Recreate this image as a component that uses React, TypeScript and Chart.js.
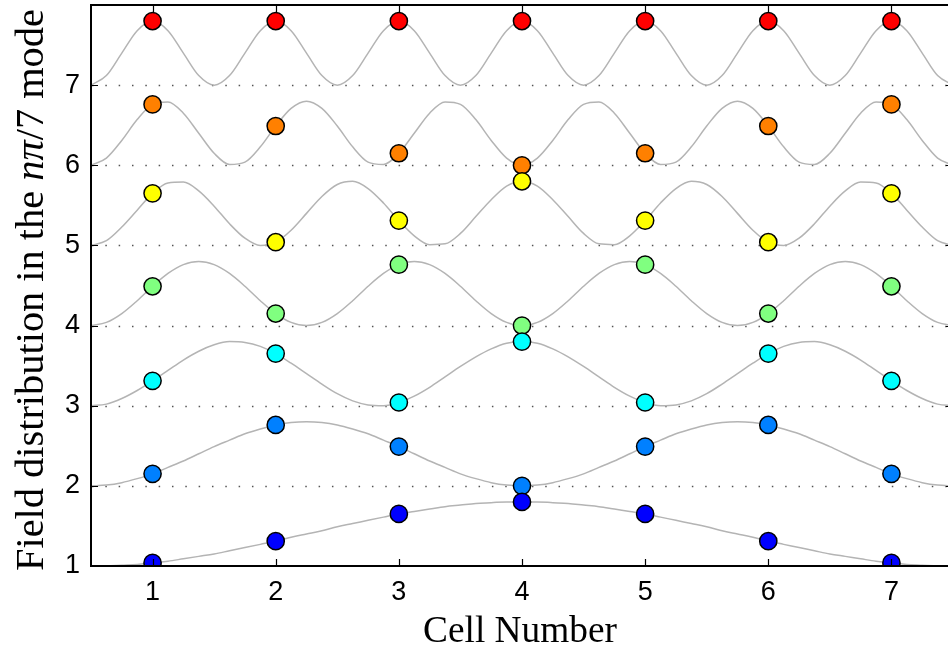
import React, { useEffect, useRef } from "react";
import { Chart, registerables } from "chart.js";
Chart.register(...registerables);

// Cell numbers (x) and tick labels
const cells = [1, 2, 3, 4, 5, 6, 7];
const yTickValues = [1, 2, 3, 4, 5, 6, 7];

// Field value at each cell, one array per nπ/7 mode
const mode1Cells = [1.04, 1.31, 1.65, 1.8, 1.65, 1.31, 1.04];
const mode2Cells = [2.15, 2.76, 2.49, 2.0, 2.49, 2.76, 2.15];
const mode3Cells = [3.31, 3.65, 3.04, 3.8, 3.04, 3.65, 3.31];
const mode4Cells = [4.49, 4.15, 4.76, 4.0, 4.76, 4.15, 4.49];
const mode5Cells = [5.65, 5.04, 5.31, 5.8, 5.31, 5.04, 5.65];
const mode6Cells = [6.76, 6.49, 6.15, 6.0, 6.15, 6.49, 6.76];
const mode7Cells = [7.8, 7.8, 7.8, 7.8, 7.8, 7.8, 7.8];

// Continuous field curves, sampled along the structure
const curveX = [
  0.5, 0.625, 0.75, 0.875, 1, 1.125, 1.25, 1.375, 1.5, 1.625, 1.75, 1.875, 2, 2.125, 2.25, 2.375,
  2.5, 2.625, 2.75, 2.875, 3, 3.125, 3.25, 3.375, 3.5, 3.625, 3.75, 3.875, 4, 4.125, 4.25, 4.375,
  4.5, 4.625, 4.75, 4.875, 5, 5.125, 5.25, 5.375, 5.5, 5.625, 5.75, 5.875, 6, 6.125, 6.25, 6.375,
  6.5, 6.625, 6.75, 6.875, 7, 7.125, 7.25, 7.375, 7.5,
];
const mode1Curve = [
  1.0, 1.0, 1.01, 1.02, 1.04, 1.06, 1.09, 1.12, 1.15, 1.19, 1.23, 1.27, 1.31, 1.36, 1.4, 1.44, 1.49,
  1.53, 1.57, 1.61, 1.65, 1.68, 1.71, 1.74, 1.76, 1.78, 1.79, 1.8, 1.8, 1.8, 1.79, 1.78, 1.76, 1.74,
  1.71, 1.68, 1.65, 1.61, 1.57, 1.53, 1.49, 1.44, 1.4, 1.36, 1.31, 1.27, 1.23, 1.19, 1.15, 1.12, 1.09,
  1.06, 1.04, 1.02, 1.01, 1.0, 1.0,
];
const mode2Curve = [
  2.0, 2.01, 2.04, 2.09, 2.15, 2.23, 2.31, 2.4, 2.49, 2.57, 2.65, 2.71, 2.76, 2.79, 2.8, 2.79, 2.76,
  2.71, 2.65, 2.57, 2.49, 2.4, 2.31, 2.23, 2.15, 2.09, 2.04, 2.01, 2.0, 2.01, 2.04, 2.09, 2.15, 2.23,
  2.31, 2.4, 2.49, 2.57, 2.65, 2.71, 2.76, 2.79, 2.8, 2.79, 2.76, 2.71, 2.65, 2.57, 2.49, 2.4, 2.31,
  2.23, 2.15, 2.09, 2.04, 2.01, 2.0,
];
const mode3Curve = [
  3.0, 3.02, 3.09, 3.19, 3.31, 3.44, 3.57, 3.68, 3.76, 3.8, 3.79, 3.74, 3.65, 3.53, 3.4, 3.27, 3.15,
  3.06, 3.01, 3.0, 3.04, 3.12, 3.23, 3.36, 3.49, 3.61, 3.71, 3.78, 3.8, 3.78, 3.71, 3.61, 3.49, 3.36,
  3.23, 3.12, 3.04, 3.0, 3.01, 3.06, 3.15, 3.27, 3.4, 3.53, 3.65, 3.74, 3.79, 3.8, 3.76, 3.68, 3.57,
  3.44, 3.31, 3.19, 3.09, 3.02, 3.0,
];
const mode4Curve = [
  4.0, 4.04, 4.15, 4.31, 4.49, 4.65, 4.76, 4.8, 4.76, 4.65, 4.49, 4.31, 4.15, 4.04,
  4.0, 4.04, 4.15, 4.31, 4.49, 4.65, 4.76, 4.8, 4.76, 4.65, 4.49, 4.31, 4.15, 4.04,
  4.0, 4.04, 4.15, 4.31, 4.49, 4.65, 4.76, 4.8, 4.76, 4.65, 4.49, 4.31, 4.15, 4.04,
  4.0, 4.04, 4.15, 4.31, 4.49, 4.65, 4.76, 4.8, 4.76, 4.65, 4.49, 4.31, 4.15, 4.04,
  4.0,
];
const mode5Curve = [
  5.0, 5.06, 5.23, 5.44, 5.65, 5.78, 5.79, 5.68, 5.49, 5.27, 5.09, 5.0, 5.04, 5.19, 5.4, 5.61, 5.76,
  5.8, 5.71, 5.53, 5.31, 5.12, 5.01, 5.02, 5.15, 5.36, 5.57, 5.74, 5.8, 5.74, 5.57, 5.36, 5.15, 5.02,
  5.01, 5.12, 5.31, 5.53, 5.71, 5.8, 5.76, 5.61, 5.4, 5.19, 5.04, 5.0, 5.09, 5.27, 5.49, 5.68, 5.79,
  5.78, 5.65, 5.44, 5.23, 5.06, 5.0,
];
const mode6Curve = [
  6.0, 6.09, 6.31, 6.57, 6.76, 6.79, 6.65, 6.4, 6.15, 6.01, 6.04, 6.23, 6.49, 6.71, 6.8, 6.71, 6.49,
  6.23, 6.04, 6.01, 6.15, 6.4, 6.65, 6.79, 6.76, 6.57, 6.31, 6.09, 6.0, 6.09, 6.31, 6.57, 6.76, 6.79,
  6.65, 6.4, 6.15, 6.01, 6.04, 6.23, 6.49, 6.71, 6.8, 6.71, 6.49, 6.23, 6.04, 6.01, 6.15, 6.4, 6.65,
  6.79, 6.76, 6.57, 6.31, 6.09, 6.0,
];
const mode7Curve = [
  7.0, 7.12, 7.4, 7.68, 7.8, 7.68, 7.4, 7.12,
  7.0, 7.12, 7.4, 7.68, 7.8, 7.68, 7.4, 7.12,
  7.0, 7.12, 7.4, 7.68, 7.8, 7.68, 7.4, 7.12,
  7.0, 7.12, 7.4, 7.68, 7.8, 7.68, 7.4, 7.12,
  7.0, 7.12, 7.4, 7.68, 7.8, 7.68, 7.4, 7.12,
  7.0, 7.12, 7.4, 7.68, 7.8, 7.68, 7.4, 7.12,
  7.0, 7.12, 7.4, 7.68, 7.8, 7.68, 7.4, 7.12,
  7.0,
];

const modeCells = [mode1Cells, mode2Cells, mode3Cells, mode4Cells, mode5Cells, mode6Cells, mode7Cells];
const modeCurves = [mode1Curve, mode2Curve, mode3Curve, mode4Curve, mode5Curve, mode6Curve, mode7Curve];
const modeColors = ["#0000ff", "#0080ff", "#00ffff", "#80ff80", "#ffff00", "#ff8000", "#ff0000"];

const xTitle = "Cell Number";
const yTitleParts: [string, boolean][] = [
  ["Field distribution in the ", false],
  ["nπ", true],
  ["/7", false],
  [" mode", false],
];

const SERIF = '"Liberation Serif", "Times New Roman", serif';
const SANS = '"Liberation Sans", Arial, sans-serif';

const framePlugin = {
  id: "matlabFrame",
  beforeDatasetsDraw(chart: any) {
    const { ctx, chartArea } = chart;
    const ys = chart.scales.y;
    ctx.save();
    ctx.strokeStyle = "#555555";
    ctx.lineWidth = 1.5;
    ctx.setLineDash([1.5, 11.83]);
    for (const v of yTickValues) {
      if (v === 1) continue;
      const py = Math.round(ys.getPixelForValue(v)) + 0.5;
      ctx.beginPath();
      ctx.moveTo(chartArea.left + 1, py);
      ctx.lineTo(chartArea.right, py);
      ctx.stroke();
    }
    ctx.restore();
  },
  afterDatasetsDraw(chart: any) {
    const { ctx, chartArea } = chart;
    const xs = chart.scales.x;
    const ys = chart.scales.y;
    ctx.save();
    ctx.strokeStyle = "#000";
    ctx.lineWidth = 1.2;
    const tl = 7;
    for (const v of cells) {
      const px = Math.round(xs.getPixelForValue(v)) + 0.5;
      ctx.beginPath();
      ctx.moveTo(px, chartArea.top);
      ctx.lineTo(px, chartArea.top + tl);
      ctx.moveTo(px, chartArea.bottom);
      ctx.lineTo(px, chartArea.bottom - tl);
      ctx.stroke();
    }
    for (const v of yTickValues) {
      const py = Math.round(ys.getPixelForValue(v)) + 0.5;
      ctx.beginPath();
      ctx.moveTo(chartArea.left, py);
      ctx.lineTo(chartArea.left + tl, py);
      ctx.moveTo(chartArea.right, py);
      ctx.lineTo(chartArea.right - tl, py);
      ctx.stroke();
    }
    ctx.lineWidth = 2;
    ctx.strokeRect(chartArea.left, chartArea.top, chartArea.right - chartArea.left, chartArea.bottom - chartArea.top);
    ctx.restore();
  },
  afterDraw(chart: any) {
    const { ctx } = chart;
    ctx.save();
    ctx.fillStyle = "#000";
    ctx.textBaseline = "alphabetic";
    // x title
    ctx.font = `100px ${SERIF}`;
    const xw = ctx.measureText(xTitle).width;
    const xfs = (100 * 194) / xw;
    ctx.font = `${xfs}px ${SERIF}`;
    ctx.textAlign = "center";
    ctx.fillText(xTitle, 520, 642);
    // y title
    let w100 = 0;
    for (const [t, it] of yTitleParts) {
      ctx.font = `${it ? "italic " : ""}100px ${SERIF}`;
      w100 += ctx.measureText(t).width;
    }
    const yfs = (100 * 562) / w100;
    ctx.translate(43, 290);
    ctx.rotate(-Math.PI / 2);
    ctx.textAlign = "left";
    let x = -((w100 * yfs) / 100) / 2;
    for (const [t, it] of yTitleParts) {
      ctx.font = `${it ? "italic " : ""}${yfs}px ${SERIF}`;
      ctx.fillText(t, x, 0);
      x += ctx.measureText(t).width;
    }
    ctx.restore();
  },
};

export default function App() {
  const ref = useRef<HTMLCanvasElement | null>(null);
  useEffect(() => {
    if (!ref.current) return;
    const markerSets = modeCells.map((vals, i) => ({
      type: "line" as const,
      label: `mode ${i + 1}`,
      data: cells.map((c, k) => ({ x: c, y: vals[k] })),
      showLine: false,
      pointRadius: 8.6,
      pointHoverRadius: 8.6,
      pointBackgroundColor: modeColors[i],
      pointBorderColor: "#000",
      pointBorderWidth: 1.5,
      order: 1,
    }));
    const curveSets = modeCurves.map((vals, i) => ({
      type: "line" as const,
      label: `curve ${i + 1}`,
      data: curveX.map((x, k) => ({ x, y: vals[k] })),
      borderColor: "#b4b4b4",
      borderWidth: 1.5,
      pointRadius: 0,
      cubicInterpolationMode: "monotone" as const,
      fill: false,
      order: 2,
    }));
    const chart = new Chart(ref.current, {
      type: "line",
      data: { datasets: [...markerSets, ...curveSets] as any },
      plugins: [framePlugin],
      options: {
        animation: false,
        responsive: false,
        devicePixelRatio: 1,
        layout: { autoPadding: false, padding: { left: 0, right: 7, top: 5, bottom: 0 } },
        plugins: { legend: { display: false }, tooltip: { enabled: false }, title: { display: false } },
        scales: {
          x: {
            type: "linear",
            min: 0.5,
            max: 7.5,
            afterBuildTicks: (s: any) => {
              s.ticks = cells.map((v) => ({ value: v }));
            },
            afterFit: (s: any) => {
              s.height = 81;
              s.paddingLeft = 0;
              s.paddingRight = 0;
            },
            grid: { display: false, drawTicks: false },
            border: { display: false },
            ticks: {
              color: "#000",
              font: { family: SANS, size: 27 },
              padding: 10,
              maxRotation: 0,
              autoSkip: false,
              callback: (v: any) => String(v),
            },
          },
          y: {
            type: "linear",
            min: 1,
            max: 8,
            afterBuildTicks: (s: any) => {
              s.ticks = yTickValues.map((v) => ({ value: v }));
            },
            afterFit: (s: any) => {
              s.width = 91;
              s.paddingTop = 0;
              s.paddingBottom = 0;
            },
            grid: { display: false, drawTicks: false },
            border: { display: false },
            ticks: {
              color: "#000",
              font: { family: SANS, size: 27 },
              padding: 11,
              autoSkip: false,
              callback: (v: any) => String(v),
            },
          },
        },
      },
    });
    return () => chart.destroy();
  }, []);
  return (
    <div style={{ position: "fixed", left: 0, top: 0, width: 948, height: 647, overflow: "hidden", background: "#fff" }}>
      <canvas ref={ref} width={960} height={647} style={{ width: 960, height: 647, display: "block" }} />
    </div>
  );
}
